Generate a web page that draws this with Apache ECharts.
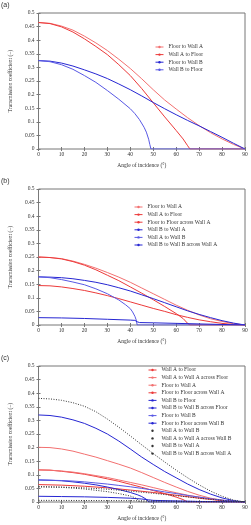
<!DOCTYPE html>
<html>
<head>
<meta charset="utf-8">
<script src="https://cdn.jsdelivr.net/npm/echarts@6/dist/echarts.min.js"></script>
<style>
html, body { margin: 0; padding: 0; background: #fff; }
#main { width: 251px; height: 525px; }
</style>
</head>
<body>
<div id="main"></div>
<script>
// ---- data: [angle of incidence (deg), transmission coefficient] ----

// panel (a)
var aFloorToWallA = [[0,.465],[5,.462],[10,.452],[15,.437],[20,.415],[25,.39],[30,.362],[35,.33],[40,.296],[45,.258],[50,.218],[55,.18],[60,.147],[65,.115],[70,.086],[75,.06],[80,.037],[85,.017],[90,0]];
var aWallAToFloor = [[0,.465],[5,.461],[10,.449],[15,.43],[20,.405],[25,.377],[30,.347],[35,.31],[40,.27],[45,.222],[50,.17],[55,.118],[60,.068],[63,.037],[65,.012],[66,0],[70,0],[80,0],[90,0]];
var aFloorToWallB = [[0,.325],[5,.323],[10,.316],[15,.305],[20,.291],[25,.276],[30,.259],[35,.239],[40,.218],[45,.195],[50,.171],[55,.148],[60,.126],[65,.105],[70,.085],[75,.064],[80,.043],[85,.021],[90,0]];
var aWallBToFloor = [[0,.325],[5,.321],[10,.31],[15,.293],[20,.27],[25,.245],[30,.215],[35,.183],[40,.148],[42,.13],[44,.108],[46,.08],[47,.062],[48,.036],[48.5,.017],[49,0],[60,0],[70,0],[80,0],[90,0]];

// panel (b)
var bFloorToWallA = [[0,.25],[5,.248],[10,.244],[15,.235],[20,.223],[25,.209],[30,.193],[35,.176],[40,.157],[45,.136],[50,.115],[55,.094],[60,.073],[65,.054],[70,.037],[75,.023],[80,.013],[85,.005],[90,0]];
var bWallAToFloor = [[0,.25],[5,.248],[10,.243],[15,.233],[20,.22],[25,.203],[30,.183],[35,.163],[40,.14],[45,.117],[50,.093],[55,.068],[60,.042],[63,.024],[65,.006],[66,0],[70,0],[80,0],[90,0]];
var bFloorToFloorAcrossWallA = [[0,.145],[5,.144],[10,.14],[15,.134],[20,.127],[25,.118],[30,.108],[35,.097],[40,.085],[45,.073],[50,.061],[55,.05],[60,.038],[65,.028],[70,.019],[75,.012],[80,.006],[85,.002],[90,0]];
var bWallBToWallA = [[0,.177],[5,.176],[10,.174],[15,.17],[20,.164],[25,.157],[30,.148],[35,.137],[40,.125],[45,.111],[50,.097],[55,.082],[60,.067],[65,.052],[70,.039],[75,.027],[80,.016],[85,.007],[90,0]];
var bWallAToWallB = [[0,.177],[5,.174],[10,.167],[15,.158],[20,.148],[25,.133],[30,.115],[35,.092],[38,.074],[40,.06],[41,.048],[42,.032],[42.6,.018],[43,0],[60,0],[80,0],[90,0]];
var bWallBToWallBAcrossWallA = [[0,.027],[10,.026],[20,.024],[30,.021],[40,.018],[42,.017],[43,.012],[44,.009],[50,.008],[60,.006],[70,.004],[80,.002],[90,0]];

// panel (c)
var cWallAToFloor = [[0,.118],[5,.117],[10,.113],[15,.108],[20,.102],[25,.094],[30,.085],[35,.076],[40,.065],[45,.054],[50,.042],[55,.031],[60,.018],[63,.009],[65,0],[70,0],[80,0],[90,0]];
var cWallAToWallAAcrossFloor = [[0,.201],[5,.2],[10,.195],[15,.187],[20,.176],[25,.165],[30,.152],[35,.139],[40,.125],[45,.108],[50,.09],[55,.072],[60,.055],[65,.039],[70,.025],[75,.014],[80,.007],[85,.002],[90,0]];
var cFloorToWallA = [[0,.118],[5,.117],[10,.114],[15,.11],[20,.104],[25,.097],[30,.09],[35,.081],[40,.072],[45,.063],[50,.053],[55,.043],[60,.034],[65,.025],[70,.018],[75,.011],[80,.006],[85,.002],[90,0]];
var cFloorToFloorAcrossWallA = [[0,.064],[10,.062],[20,.058],[30,.052],[40,.044],[50,.035],[60,.025],[70,.014],[80,.005],[90,0]];
var cWallBToFloor = [[0,.081],[5,.08],[10,.078],[15,.074],[20,.069],[25,.063],[30,.055],[35,.046],[40,.035],[43,.027],[45,.02],[47,.01],[48,0],[60,0],[70,0],[80,0],[90,0]];
var cWallBToWallBAcrossFloor = [[0,.32],[5,.318],[10,.312],[15,.302],[20,.289],[25,.271],[30,.25],[35,.224],[40,.195],[45,.165],[50,.138],[55,.112],[60,.089],[65,.066],[70,.046],[75,.029],[80,.015],[85,.005],[90,0]];
var cFloorToWallB = [[0,.081],[5,.08],[10,.079],[15,.077],[20,.074],[25,.07],[30,.066],[35,.061],[40,.056],[45,.05],[50,.044],[55,.037],[60,.031],[65,.024],[70,.018],[75,.012],[80,.007],[85,.003],[90,0]];
var cFloorToFloorAcrossWallB = [[0,.021],[10,.02],[20,.019],[30,.017],[40,.014],[45,.011],[48,.008],[50,.006],[60,.004],[70,.002],[80,.001],[90,0]];
var cWallAToWallB = [[0,.056],[5,.055],[10,.054],[15,.051],[20,.048],[25,.043],[30,.038],[35,.031],[40,.022],[42,.016],[43,.01],[44,0],[60,0],[80,0],[90,0]];
var cWallAToWallAAcrossWallB = [[0,.381],[5,.379],[10,.374],[15,.365],[20,.352],[25,.332],[30,.305],[35,.275],[40,.243],[45,.21],[50,.178],[55,.147],[60,.117],[65,.089],[70,.063],[75,.04],[80,.021],[85,.007],[90,0]];
var cWallBToWallA = [[0,.056],[10,.055],[20,.052],[30,.047],[40,.04],[50,.032],[60,.023],[70,.014],[80,.006],[90,0]];
var cWallBToWallBAcrossWallA = [[0,.006],[20,.0055],[40,.005],[60,.003],[80,.001],[90,0]];

var xTicks = [0, 90, 10];      // min, max, interval
var yTicks = [0, 0.5, 0.05];

// ---- styling ----
var SERIF = '"Liberation Serif","Times New Roman",serif';
var RED1 = '#ec3a3a', RED2 = '#f27070', BLUE1 = '#2626d2', BLUE2 = '#5858e4', BLACK = '#333';
var panelTops = [13, 189, 366];
var panelH = 136;

var grids = [], xAxes = [], yAxes = [], series = [], legends = [], titles = [];

panelTops.forEach(function (top, i) {
    grids.push({ left: 29, right: 6, top: top, height: panelH, show: true, borderColor: '#777', borderWidth: 1 });
    var tick = { inside: true, length: 2, lineStyle: { color: '#777' } };
    xAxes.push({
        gridIndex: i, type: 'value', min: xTicks[0], max: xTicks[1], interval: xTicks[2],
        axisLine: { show: false }, axisTick: tick, splitLine: { show: false },
        axisLabel: { fontSize: 5.5, margin: 3, color: '#333', fontFamily: SERIF },
        name: 'Angle of incidence (°)', nameLocation: 'middle', nameGap: 14,
        nameTextStyle: { fontSize: 5.5, color: '#333', fontFamily: SERIF }
    });
    xAxes.push({
        gridIndex: i, type: 'value', position: 'top', min: xTicks[0], max: xTicks[1], interval: xTicks[2],
        axisLine: { show: false }, axisTick: tick, axisLabel: { show: false }, splitLine: { show: false }
    });
    yAxes.push({
        gridIndex: i, type: 'value', min: yTicks[0], max: yTicks[1], interval: yTicks[2],
        axisLine: { show: false }, axisTick: tick, splitLine: { show: false },
        axisLabel: { fontSize: 5.5, margin: 4, color: '#333', fontFamily: SERIF },
        name: 'Transmission coefficient (−)', nameLocation: 'middle', nameGap: 21,
        nameTextStyle: { fontSize: 5.5, color: '#333', fontFamily: SERIF }
    });
    yAxes.push({
        gridIndex: i, type: 'value', position: 'right', min: yTicks[0], max: yTicks[1], interval: yTicks[2],
        axisLine: { show: false }, axisTick: tick, axisLabel: { show: false }, splitLine: { show: false }
    });
    titles.push({
        text: '(' + 'abc'[i] + ')', left: 1, top: top - 11, padding: 0,
        textStyle: { fontSize: 7, fontWeight: 'normal', color: '#333', fontFamily: '"Liberation Sans",Arial,sans-serif' }
    });
});

function addLine(panel, name, data, color, dotted) {
    series.push({
        type: 'line', name: name, data: data,
        xAxisIndex: panel * 2, yAxisIndex: panel * 2,
        showSymbol: false, symbol: 'circle', animation: false,
        lineStyle: { color: color, width: 1, type: dotted ? [1, 1.5] : 'solid' },
        itemStyle: { color: color }
    });
}

function addLegend(left, top, items) {
    legends.push({
        orient: 'vertical', left: left, top: top, padding: 0,
        itemWidth: 8, itemHeight: 3, itemGap: 1.6,
        textStyle: { fontSize: 5.5, color: '#333', fontFamily: SERIF },
        data: items.map(function (it) {
            return {
                name: it[0],
                itemStyle: { color: it[1] },
                lineStyle: { color: it[2] ? 'rgba(0,0,0,0)' : it[1], width: 1, type: 'solid' }
            };
        })
    });
}

// (a)
addLine(0, 'Floor to Wall A', aFloorToWallA, RED2);
addLine(0, 'Wall A to Floor', aWallAToFloor, RED1);
addLine(0, 'Floor to Wall B', aFloorToWallB, BLUE1);
addLine(0, 'Wall B to Floor', aWallBToFloor, BLUE2);
addLegend(155, 44, [['Floor to Wall A', RED2], ['Wall A to Floor', RED1], ['Floor to Wall B', BLUE1], ['Wall B to Floor', BLUE2]]);

// (b)
addLine(1, 'Floor to Wall A', bFloorToWallA, RED2);
addLine(1, 'Wall A to Floor', bWallAToFloor, RED1);
addLine(1, 'Floor to Floor across Wall A', bFloorToFloorAcrossWallA, RED1);
addLine(1, 'Wall B to Wall A', bWallBToWallA, BLUE1);
addLine(1, 'Wall A to Wall B', bWallAToWallB, BLUE2);
addLine(1, 'Wall B to Wall B across Wall A', bWallBToWallBAcrossWallA, BLUE1);
addLegend(134, 204, [['Floor to Wall A', RED2], ['Wall A to Floor', RED1], ['Floor to Floor across Wall A', RED1],
    ['Wall B to Wall A', BLUE1], ['Wall A to Wall B', BLUE2], ['Wall B to Wall B across Wall A', BLUE1]]);

// (c)
addLine(2, 'Wall A to Floor', cWallAToFloor, RED1);
addLine(2, 'Wall A to Wall A across Floor', cWallAToWallAAcrossFloor, RED2);
addLine(2, 'Floor to Wall A', cFloorToWallA, RED2);
addLine(2, 'Floor to Floor across Wall A', cFloorToFloorAcrossWallA, RED1);
addLine(2, 'Wall B to Floor', cWallBToFloor, BLUE1);
addLine(2, 'Wall B to Wall B across Floor', cWallBToWallBAcrossFloor, BLUE1);
addLine(2, 'Floor to Wall B', cFloorToWallB, BLUE2);
addLine(2, 'Floor to Floor across Wall B', cFloorToFloorAcrossWallB, BLUE1);
addLine(2, 'Wall A to Wall B', cWallAToWallB, BLACK, true);
addLine(2, 'Wall A to Wall A across Wall B', cWallAToWallAAcrossWallB, BLACK, true);
addLine(2, 'Wall B to Wall A', cWallBToWallA, BLACK, true);
addLine(2, 'Wall B to Wall B across Wall A', cWallBToWallBAcrossWallA, BLACK, true);
addLegend(148, 367, [['Wall A to Floor', RED1], ['Wall A to Wall A across Floor', RED2], ['Floor to Wall A', RED2],
    ['Floor to Floor across Wall A', RED1], ['Wall B to Floor', BLUE1], ['Wall B to Wall B across Floor', BLUE1],
    ['Floor to Wall B', BLUE2], ['Floor to Floor across Wall B', BLUE1],
    ['Wall A to Wall B', BLACK, true], ['Wall A to Wall A across Wall B', BLACK, true],
    ['Wall B to Wall A', BLACK, true], ['Wall B to Wall B across Wall A', BLACK, true]]);

var myChart = echarts.init(document.getElementById('main'));
myChart.setOption({
    animation: false,
    backgroundColor: '#fff',
    title: titles,
    grid: grids,
    xAxis: xAxes,
    yAxis: yAxes,
    legend: legends,
    series: series
});
</script>
</body>
</html>
